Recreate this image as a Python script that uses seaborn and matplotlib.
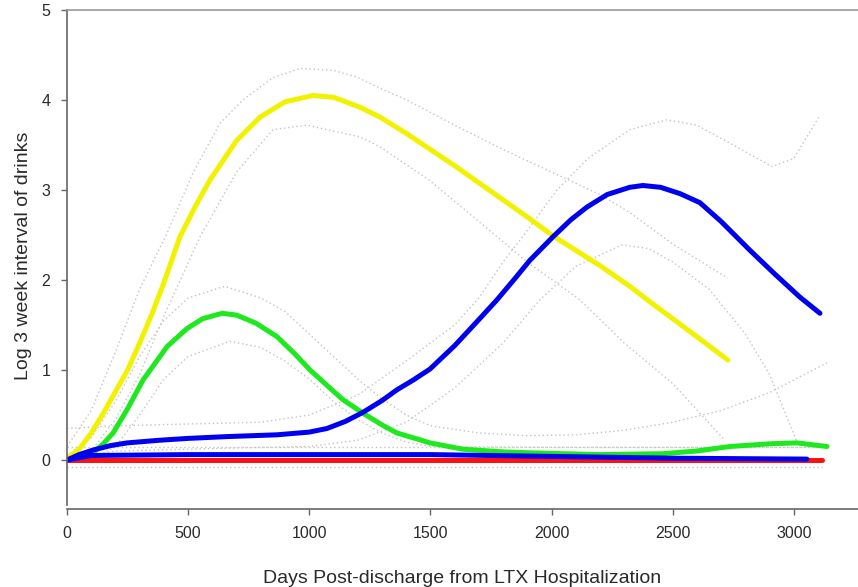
import numpy as np
import pandas as pd
import matplotlib
matplotlib.use("Agg")
import matplotlib.pyplot as plt
import seaborn as sns

# ---- data ----
yellow_x = [0, 50, 100, 150, 200, 250, 300, 350, 400, 466, 530, 590, 700, 797, 900, 1015, 1100, 1209, 1292, 1400, 1500, 1600, 1700, 1800, 1900, 2006, 2100, 2200, 2323, 2400, 2500, 2600, 2728]
yellow_y = [0.02, 0.12, 0.30, 0.52, 0.76, 1.0, 1.30, 1.62, 1.97, 2.48, 2.82, 3.11, 3.55, 3.81, 3.98, 4.05, 4.03, 3.92, 3.81, 3.63, 3.45, 3.27, 3.08, 2.89, 2.70, 2.49, 2.33, 2.16, 1.93, 1.77, 1.57, 1.37, 1.11]

green_x = [0, 50, 107, 150, 190, 248, 314, 413, 495, 560, 640, 700, 780, 867, 940, 1003, 1085, 1139, 1222, 1300, 1362, 1450, 1498, 1634, 1800, 1911, 2047, 2200, 2460, 2600, 2736, 2900, 3012, 3137]
green_y = [0.0, 0.03, 0.08, 0.18, 0.30, 0.56, 0.89, 1.26, 1.46, 1.57, 1.63, 1.61, 1.52, 1.37, 1.18, 1.00, 0.80, 0.67, 0.52, 0.39, 0.30, 0.23, 0.19, 0.12, 0.09, 0.08, 0.07, 0.06, 0.07, 0.10, 0.15, 0.18, 0.19, 0.15]

blue_x = [0, 50, 107, 180, 248, 384, 500, 660, 867, 1000, 1073, 1150, 1222, 1300, 1362, 1430, 1498, 1600, 1700, 1775, 1850, 1911, 2006, 2080, 2146, 2230, 2323, 2377, 2450, 2530, 2612, 2700, 2819, 2920, 3025, 3108]
blue_y = [0.0, 0.06, 0.11, 0.16, 0.19, 0.22, 0.24, 0.26, 0.28, 0.31, 0.35, 0.43, 0.53, 0.66, 0.78, 0.89, 1.01, 1.27, 1.56, 1.78, 2.02, 2.22, 2.48, 2.67, 2.81, 2.95, 3.03, 3.05, 3.03, 2.96, 2.86, 2.65, 2.33, 2.07, 1.81, 1.63]

blueflat_x = [0, 100, 500, 1000, 1500, 2000, 2500, 3054]
blueflat_y = [0.0, 0.05, 0.06, 0.06, 0.06, 0.04, 0.02, 0.01]

red_x = [0, 1000, 2000, 3116]
red_y = [0.0, 0.0, 0.0, 0.0]

# confidence bands (grey dotted)
yu_x = [0, 100, 200, 300, 413, 520, 631, 726, 850, 962, 1100, 1200, 1300, 1403, 1600, 1800, 2000, 2200, 2323, 2500, 2727]
yu_y = [0.15, 0.55, 1.20, 1.90, 2.52, 3.19, 3.74, 4.00, 4.25, 4.35, 4.33, 4.25, 4.12, 4.00, 3.72, 3.45, 3.20, 2.95, 2.75, 2.40, 2.02]
yl_x = [0, 100, 200, 300, 400, 549, 700, 850, 990, 1209, 1292, 1500, 1700, 1900, 2117, 2300, 2500, 2715]
yl_y = [0.0, 0.10, 0.45, 0.95, 1.60, 2.48, 3.20, 3.67, 3.72, 3.59, 3.48, 3.10, 2.65, 2.20, 1.78, 1.30, 0.85, 0.22]
bu_x = [0, 200, 500, 800, 1000, 1200, 1400, 1600, 1700, 1800, 1900, 2022, 2150, 2323, 2476, 2600, 2750, 2910, 3000, 3108]
bu_y = [0.35, 0.38, 0.40, 0.42, 0.50, 0.72, 1.10, 1.50, 1.80, 2.20, 2.55, 3.00, 3.35, 3.67, 3.78, 3.72, 3.50, 3.26, 3.35, 3.83]
bl_x = [0, 200, 500, 800, 1000, 1200, 1400, 1600, 1800, 1952, 2100, 2290, 2400, 2500, 2650, 2800, 2900, 3010]
bl_y = [0.0, 0.10, 0.12, 0.14, 0.15, 0.22, 0.42, 0.80, 1.30, 1.78, 2.15, 2.39, 2.35, 2.20, 1.90, 1.40, 0.95, 0.22]
gu_x = [0, 100, 200, 300, 400, 500, 650, 800, 900, 1000, 1100, 1200, 1300, 1400, 1500, 1700, 1900, 2100, 2300, 2500, 2700, 2900, 3137]
gu_y = [0.05, 0.25, 0.65, 1.15, 1.55, 1.80, 1.93, 1.80, 1.65, 1.40, 1.15, 0.90, 0.68, 0.50, 0.38, 0.30, 0.27, 0.28, 0.33, 0.42, 0.55, 0.75, 1.08]
gl_x = [0, 100, 200, 300, 400, 500, 673, 800, 900, 1000, 1100, 1200, 1300, 1400, 1500, 2000, 2500, 3137]
gl_y = [0.0, 0.0, 0.15, 0.50, 0.90, 1.15, 1.32, 1.25, 1.10, 0.90, 0.65, 0.45, 0.30, 0.20, 0.15, 0.14, 0.14, 0.14]
fu_x = [0, 1000, 2000, 3116]
fu_y = [0.15, 0.15, 0.15, 0.15]
fl_x = [0, 1000, 2000, 3116]
fl_y = [-0.08, -0.08, -0.08, -0.08]

x_ticks = [0, 500, 1000, 1500, 2000, 2500, 3000]
y_ticks = [0, 1, 2, 3, 4, 5]

sns.set_style("white")
plt.rcParams['font.family'] = ['Liberation Sans', 'DejaVu Sans']

fig = plt.figure(figsize=(8.58, 5.87), dpi=100)
ax = fig.add_axes([67 / 858, 1 - 505 / 587, 1 - 67 / 858, (505 - 10) / 587])

grey = "#c4c4c4"
for xs, ys in [(yu_x, yu_y), (yl_x, yl_y), (bu_x, bu_y), (bl_x, bl_y),
               (gu_x, gu_y), (gl_x, gl_y), (fu_x, fu_y), (fl_x, fl_y)]:
    sns.lineplot(x=xs, y=ys, ax=ax, color=grey, linestyle=(0, (1, 2)),
                 linewidth=1.0, sort=False, estimator=None)

main = [
    (yellow_x, yellow_y, "#f2f200"),
    (green_x, green_y, "#1ee81e"),
    (red_x, red_y, "#ff1010"),
    (blueflat_x, blueflat_y, "#0000f0"),
    (blue_x, blue_y, "#0000f0"),
]
for xs, ys, c in main:
    sns.lineplot(x=xs, y=ys, ax=ax, color=c, linewidth=3.6, sort=False,
                 estimator=None, solid_capstyle="round",
                 solid_joinstyle="round")

ax.set_xlim(0, 3265)
ax.set_ylim(-0.5, 5)
ax.set_xticks(x_ticks)
ax.set_yticks(y_ticks)

spine_c = "#666666"
ax.spines["right"].set_visible(False)
ax.spines["left"].set_color(spine_c)
ax.spines["top"].set_color("#999999")
ax.spines["bottom"].set_color(spine_c)
ax.spines["bottom"].set_position(("outward", 3))
for s in ["left", "top", "bottom"]:
    ax.spines[s].set_linewidth(1.2)

ax.tick_params(axis="both", direction="out", length=4, width=1.0,
               color=spine_c, labelsize=11.5, labelcolor="#2a2a2a",
               left=True, bottom=True, pad=3)
ax.tick_params(axis="y", pad=8)
ax.tick_params(axis="x", pad=8)

ax.set_xlabel("Days Post-discharge from LTX Hospitalization", fontsize=14,
              color="#2a2a2a", labelpad=21)
ax.set_ylabel("Log 3 week interval of drinks", fontsize=14,
              color="#2a2a2a")
ax.yaxis.set_label_coords(-0.044, 0.503)

fig.savefig("out.png", dpi=100)
